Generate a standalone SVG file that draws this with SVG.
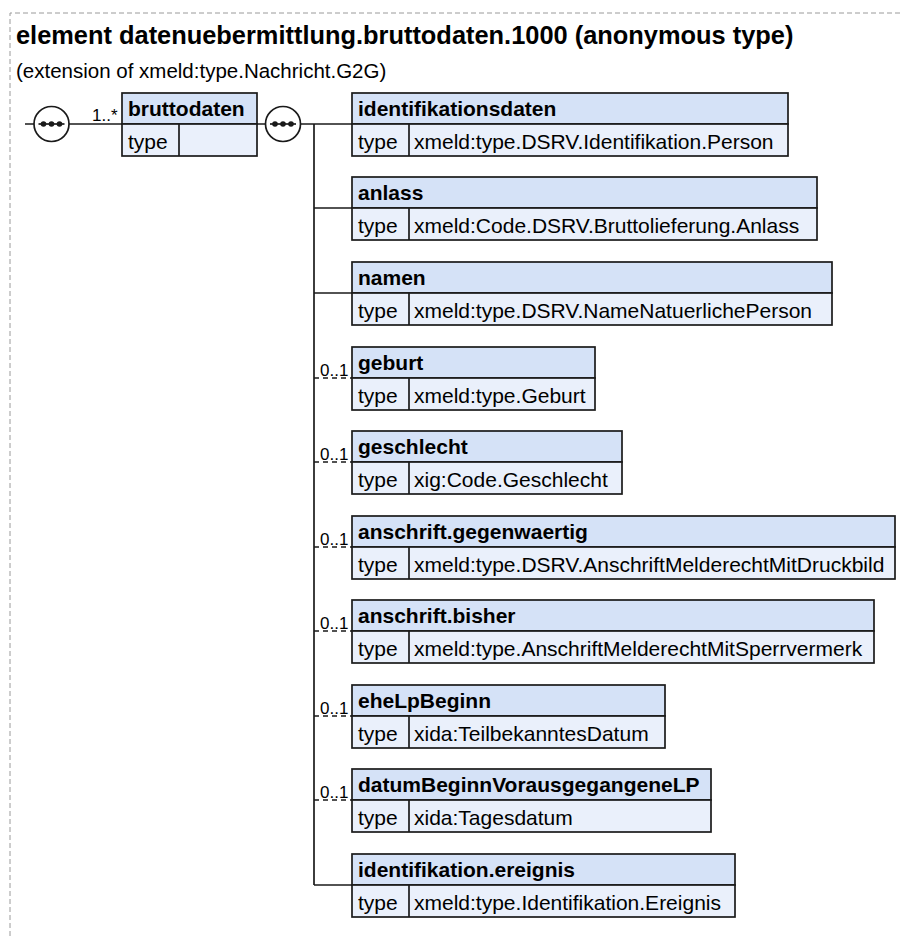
<svg xmlns="http://www.w3.org/2000/svg" width="903" height="936" viewBox="0 0 903 936">
<style>
  text { font-family: "Liberation Sans", Arial, sans-serif; fill: #000; }
  .title { font-size: 25.4px; font-weight: bold; }
  .sub { font-size: 20.5px; }
  .hd { font-size: 21px; font-weight: bold; }
  .tx { font-size: 21px; }
  .card { font-size: 17px; }
  .hdr { fill: #D5E2F7; stroke: #1a1a1a; stroke-width: 1.7; }
  .row { fill: #EAF0FB; stroke: #1a1a1a; stroke-width: 1.7; }
  .ln { stroke: #1a1a1a; stroke-width: 1.7; fill: none; }
  .dash { stroke: #1a1a1a; stroke-width: 1.7; fill: none; stroke-dasharray: 5 4; }
  .border { stroke: #9a9a9a; stroke-width: 1; fill: none; stroke-dasharray: 5 3; }
  .seq { fill: #fff; stroke: #1a1a1a; stroke-width: 1.7; }
  .dot { fill: #1a1a1a; }
</style>
<defs>
  <g id="seqsym">
    <circle class="seq" cx="0" cy="0" r="17.5"/>
    <line class="ln" x1="-13" y1="0" x2="13" y2="0"/>
    <circle class="dot" cx="-8" cy="0" r="2.8"/>
    <circle class="dot" cx="0" cy="0" r="2.8"/>
    <circle class="dot" cx="8" cy="0" r="2.8"/>
  </g>
</defs>
<path class="border" d="M10 936 V13 H903"/>
<text class="title" x="16" y="44">element datenuebermittlung.bruttodaten.1000 (anonymous type)</text>
<text class="sub" x="16" y="78">(extension of xmeld:type.Nachricht.G2G)</text>

<g id="connectors">
  <line class="ln" x1="25" y1="124" x2="122" y2="124"/>
  <text class="card" x="92" y="121">1..*</text>
  <line class="ln" x1="257" y1="124" x2="352" y2="124"/>
  <line class="ln" x1="314" y1="124" x2="314" y2="885"/>
  <line class="ln" x1="314" y1="208" x2="352" y2="208"/>
  <line class="ln" x1="314" y1="293" x2="352" y2="293"/>
  <line class="dash" x1="314" y1="378" x2="352" y2="378"/>
  <text class="card" x="320" y="376">0..1</text>
  <line class="dash" x1="314" y1="462" x2="352" y2="462"/>
  <text class="card" x="320" y="460">0..1</text>
  <line class="dash" x1="314" y1="547" x2="352" y2="547"/>
  <text class="card" x="320" y="545">0..1</text>
  <line class="dash" x1="314" y1="631" x2="352" y2="631"/>
  <text class="card" x="320" y="629">0..1</text>
  <line class="dash" x1="314" y1="716" x2="352" y2="716"/>
  <text class="card" x="320" y="714">0..1</text>
  <line class="dash" x1="314" y1="800" x2="352" y2="800"/>
  <text class="card" x="320" y="798">0..1</text>
  <line class="ln" x1="314" y1="885" x2="352" y2="885"/>
  <use href="#seqsym" x="51.5" y="124"/>
  <use href="#seqsym" x="283" y="124"/>
</g>

<g id="node-bruttodaten" transform="translate(122 93)">
  <rect class="hdr" x="0" y="0" width="135" height="31"/>
  <rect class="row" x="0" y="31" width="135" height="32"/>
  <line class="ln" x1="57" y1="31" x2="57" y2="63"/>
  <text class="hd" x="6" y="23">bruttodaten</text>
  <text class="tx" x="6" y="56">type</text>
</g>

<g id="node-identifikationsdaten" transform="translate(352 93)">
  <rect class="hdr" x="0" y="0" width="436" height="31"/>
  <rect class="row" x="0" y="31" width="436" height="32"/>
  <line class="ln" x1="57" y1="31" x2="57" y2="63"/>
  <text class="hd" x="6" y="23">identifikationsdaten</text>
  <text class="tx" x="6" y="56">type</text>
  <text class="tx" x="62" y="56">xmeld:type.DSRV.Identifikation.Person</text>
</g>

<g id="node-anlass" transform="translate(352 177)">
  <rect class="hdr" x="0" y="0" width="465" height="31"/>
  <rect class="row" x="0" y="31" width="465" height="32"/>
  <line class="ln" x1="57" y1="31" x2="57" y2="63"/>
  <text class="hd" x="6" y="23">anlass</text>
  <text class="tx" x="6" y="56">type</text>
  <text class="tx" x="62" y="56">xmeld:Code.DSRV.Bruttolieferung.Anlass</text>
</g>

<g id="node-namen" transform="translate(352 262)">
  <rect class="hdr" x="0" y="0" width="480" height="31"/>
  <rect class="row" x="0" y="31" width="480" height="32"/>
  <line class="ln" x1="57" y1="31" x2="57" y2="63"/>
  <text class="hd" x="6" y="23">namen</text>
  <text class="tx" x="6" y="56">type</text>
  <text class="tx" x="62" y="56">xmeld:type.DSRV.NameNatuerlichePerson</text>
</g>

<g id="node-geburt" transform="translate(352 347)">
  <rect class="hdr" x="0" y="0" width="243" height="31"/>
  <rect class="row" x="0" y="31" width="243" height="32"/>
  <line class="ln" x1="57" y1="31" x2="57" y2="63"/>
  <text class="hd" x="6" y="23">geburt</text>
  <text class="tx" x="6" y="56">type</text>
  <text class="tx" x="62" y="56">xmeld:type.Geburt</text>
</g>

<g id="node-geschlecht" transform="translate(352 431)">
  <rect class="hdr" x="0" y="0" width="270" height="31"/>
  <rect class="row" x="0" y="31" width="270" height="32"/>
  <line class="ln" x1="57" y1="31" x2="57" y2="63"/>
  <text class="hd" x="6" y="23">geschlecht</text>
  <text class="tx" x="6" y="56">type</text>
  <text class="tx" x="62" y="56">xig:Code.Geschlecht</text>
</g>

<g id="node-anschrift-gegenwaertig" transform="translate(352 516)">
  <rect class="hdr" x="0" y="0" width="543" height="31"/>
  <rect class="row" x="0" y="31" width="543" height="32"/>
  <line class="ln" x1="57" y1="31" x2="57" y2="63"/>
  <text class="hd" x="6" y="23">anschrift.gegenwaertig</text>
  <text class="tx" x="6" y="56">type</text>
  <text class="tx" x="62" y="56">xmeld:type.DSRV.AnschriftMelderechtMitDruckbild</text>
</g>

<g id="node-anschrift-bisher" transform="translate(352 600)">
  <rect class="hdr" x="0" y="0" width="522" height="31"/>
  <rect class="row" x="0" y="31" width="522" height="32"/>
  <line class="ln" x1="57" y1="31" x2="57" y2="63"/>
  <text class="hd" x="6" y="23">anschrift.bisher</text>
  <text class="tx" x="6" y="56">type</text>
  <text class="tx" x="62" y="56">xmeld:type.AnschriftMelderechtMitSperrvermerk</text>
</g>

<g id="node-eheLpBeginn" transform="translate(352 685)">
  <rect class="hdr" x="0" y="0" width="313" height="31"/>
  <rect class="row" x="0" y="31" width="313" height="32"/>
  <line class="ln" x1="57" y1="31" x2="57" y2="63"/>
  <text class="hd" x="6" y="23">eheLpBeginn</text>
  <text class="tx" x="6" y="56">type</text>
  <text class="tx" x="62" y="56">xida:TeilbekanntesDatum</text>
</g>

<g id="node-datumBeginnVorausgegangeneLP" transform="translate(352 769)">
  <rect class="hdr" x="0" y="0" width="359" height="31"/>
  <rect class="row" x="0" y="31" width="359" height="32"/>
  <line class="ln" x1="57" y1="31" x2="57" y2="63"/>
  <text class="hd" x="6" y="23">datumBeginnVorausgegangeneLP</text>
  <text class="tx" x="6" y="56">type</text>
  <text class="tx" x="62" y="56">xida:Tagesdatum</text>
</g>

<g id="node-identifikation-ereignis" transform="translate(352 854)">
  <rect class="hdr" x="0" y="0" width="383" height="31"/>
  <rect class="row" x="0" y="31" width="383" height="32"/>
  <line class="ln" x1="57" y1="31" x2="57" y2="63"/>
  <text class="hd" x="6" y="23">identifikation.ereignis</text>
  <text class="tx" x="6" y="56">type</text>
  <text class="tx" x="62" y="56">xmeld:type.Identifikation.Ereignis</text>
</g>
</svg>
